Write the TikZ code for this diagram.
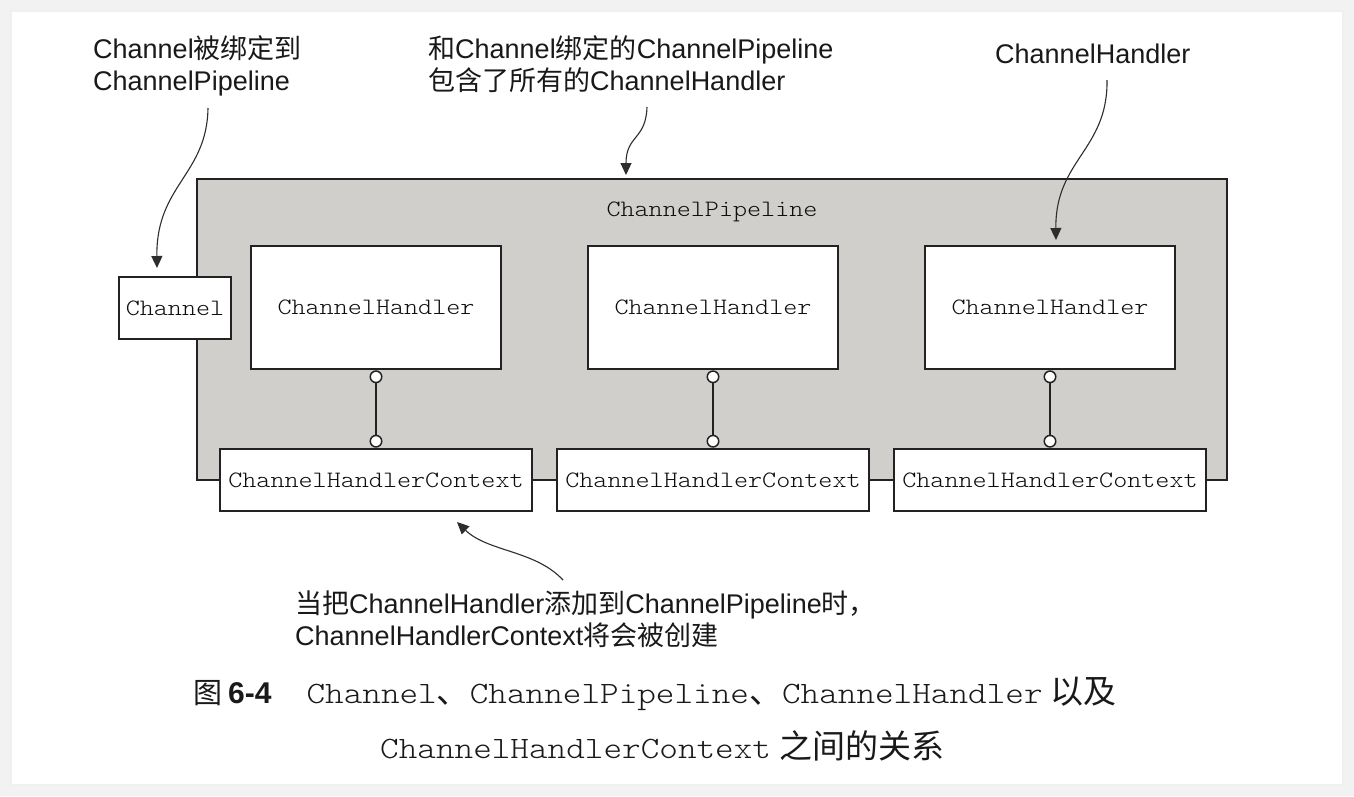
\documentclass[tikz,border=0pt]{standalone}
\usepackage{fontspec}
\setmainfont{Liberation Sans}
\newfontfamily\cjk{Noto Sans CJK SC}
\newfontfamily\mono{lmmonolt10-regular.otf}[FakeStretch=1.14]
\usetikzlibrary{arrows.meta}
\definecolor{pipegray}{RGB}{208,207,203}
\definecolor{edgec}{RGB}{34,34,34}
\definecolor{arrowc}{RGB}{45,45,45}
\definecolor{pagebg}{RGB}{242,242,242}
\definecolor{textc}{RGB}{25,25,25}
\definecolor{monoc}{RGB}{15,15,15}
\newcommand\annotfont{\fontsize{27}{32}\selectfont}
\newcommand\boxfont{\mono\fontsize{23.5}{28}\selectfont}
\newcommand\capmono{\mono\fontsize{31.1}{32}\selectfont}
\newcommand\capcjk{\cjk\fontsize{33}{34}\selectfont}
\begin{document}
\begin{tikzpicture}[x=1pt,y=-1pt,
  box/.style={draw=edgec,line width=1.6pt,fill=white,inner sep=0pt,font=\boxfont,text=monoc},
  pipebox/.style={draw=edgec,line width=2pt,fill=pipegray,inner sep=0pt},
  circ/.style={circle,draw=edgec,line width=1.5pt,fill=white,inner sep=0pt,minimum size=11.5pt},
  link/.style={draw=edgec,line width=1.6pt},
  conn/.style={draw=arrowc,line width=1.1pt,-{Triangle[length=12pt,width=11pt]}},
  annot/.style={inner sep=0pt,font=\annotfont,align=left,text=textc,anchor=base west},
  captxt/.style={inner sep=0pt,text=textc,anchor=base west}]
% page
\fill[pagebg] (0,0) rectangle (1354,796);
\fill[black!6] (10,10) rectangle (1344,786);
\fill[white] (12,12) rectangle (1342,784);
\useasboundingbox (0,0) rectangle (1354,796);

% pipeline
\node[pipebox,minimum width=1030pt,minimum height=301pt] (pipe) at (712,329.5) {};
\node[inner sep=0pt,font=\boxfont,text=monoc] (pipelabel) at (712,212) {ChannelPipeline};

% channel
\node[box,minimum width=112pt,minimum height=62pt] (ch) at (175,308) {Channel};

% handlers
\node[box,minimum width=250pt,minimum height=123pt] (h1) at (376,307.5) {ChannelHandler};
\node[box,minimum width=250pt,minimum height=123pt] (h2) at (713,307.5) {ChannelHandler};
\node[box,minimum width=250pt,minimum height=123pt] (h3) at (1050,307.5) {ChannelHandler};

% contexts
\node[box,minimum width=312pt,minimum height=62pt] (x1) at (376,480) {ChannelHandlerContext};
\node[box,minimum width=312pt,minimum height=62pt] (x2) at (713,480) {ChannelHandlerContext};
\node[box,minimum width=312pt,minimum height=62pt] (x3) at (1050,480) {ChannelHandlerContext};

% handler-context links
\foreach \i in {1,2,3}{
  \node[circ,anchor=north] (ca\i) at ([yshift=-0.5pt]h\i.south) {};
  \node[circ,anchor=south] (cb\i) at ([yshift=0.5pt]x\i.north) {};
  \draw[link] (ca\i) -- (cb\i);
}

% annotations (anchor at baseline of last line)
\node[annot] (t1) at (93,90) {Channel{\cjk 被绑定到}\\ChannelPipeline};
\node[annot] (t2) at (428,90) {{\cjk 和}Channel{\cjk 绑定的}ChannelPipeline\\{\cjk 包含了所有的}ChannelHandler};
\node[annot] (t3) at (995,63) {ChannelHandler};
\node[annot] (t4) at (295,645) {{\cjk 当把}ChannelHandler{\cjk 添加到}ChannelPipeline{\cjk 时，}\\ChannelHandlerContext{\cjk 将会被创建}};

% arrows
\coordinate (s1) at (208,108);
\coordinate (e1) at (157,268);
\draw[conn] (s1) .. controls (207,175) and (156,185) .. (e1);
\coordinate (s2) at (647,107);
\coordinate (e2) at (626,175);
\draw[conn] (s2) .. controls (646,140) and (626,135) .. (e2);
\coordinate (s3) at (1107,80);
\coordinate (e3) at (1056,240);
\draw[conn] (s3) .. controls (1108,150) and (1055,160) .. (e3);
\coordinate (s4) at (563,580);
\coordinate (e4) at (457,522);
\draw[conn] (s4) .. controls (535,550) and (488,552) .. (e4);

% caption
\node[captxt] (cap1) at (193,703) {{\cjk\fontsize{29}{30}\selectfont 图}\hspace{6pt}{\fontsize{30}{32}\selectfont\bfseries 6-4}\hspace{35pt}{\capmono Channel}{\capcjk 、}{\capmono ChannelPipeline}{\capcjk 、}{\capmono ChannelHandler}\hspace{8pt}{\capcjk 以及}};
\node[captxt] (cap2) at (380,758) {{\capmono ChannelHandlerContext}\hspace{8pt}{\capcjk 之间的关系}};
\end{tikzpicture}
\end{document}
